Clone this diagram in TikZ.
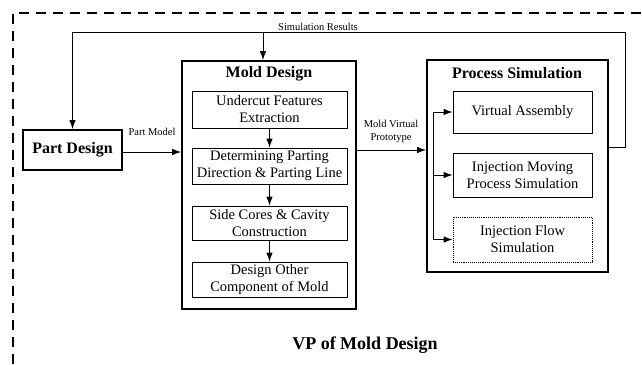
\documentclass[tikz,border=0pt]{standalone}
\usepackage{fontspec}
\setmainfont{Liberation Serif}
\usetikzlibrary{arrows.meta}

\tikzset{
  outer/.style={draw, line width=1.8pt, inner sep=0pt},
  inbox/.style={draw, line width=0.9pt, minimum width=155pt, align=center,
    inner sep=0pt, font=\fontsize{14.5}{17}\selectfont},
  simbox/.style={inbox, minimum width=139pt},
  title/.style={font=\fontsize{16}{18}\selectfont\bfseries},
  lbl/.style={font=\fontsize{10.5}{12.5}\selectfont, align=center, inner sep=1pt},
  link/.style={-{Latex[length=9pt,width=6.5pt]}, line width=0.9pt},
}

\begin{document}
\begin{tikzpicture}[x=1pt, y=-1pt]

\useasboundingbox (0,0) rectangle (642,364);

% frame of the VP
\draw[line width=1.5pt, dash pattern=on 10pt off 7pt] (13,364) -- (13,13) -- (642,13);

\node[outer, minimum width=99pt, minimum height=40pt, title] (part) at (72.5,150) {Part Design};

\node[outer, minimum width=174pt, minimum height=248pt] (mold) at (269,185) {};
\node[title] (moldt) at (269,74) {Mold Design};
\node[inbox, minimum height=37pt] (cut)   at (269.5,109.5) {Undercut Features\\Extraction};
\node[inbox, minimum height=36pt] (dir)   at (269.5,166)   {Determining Parting\\Direction \& Parting Line};
\node[inbox, minimum height=34pt] (core)  at (269.5,223)   {Side Cores \& Cavity\\Construction};
\node[inbox, minimum height=35pt] (other) at (269.5,279.5) {Design Other\\Component of Mold};

\node[outer, minimum width=181pt, minimum height=212pt] (proc) at (517.5,166) {};
\node[title] (proct) at (517,73) {Process Simulation};
\node[simbox, minimum height=42pt] (va)  at (522.5,112)   {Virtual Assembly};
\node[simbox, minimum height=44pt] (imp) at (522.5,175)   {Injection Moving\\Process Simulation};
\node[simbox, minimum height=45pt, densely dotted] (ifs) at (522.5,239.5) {Injection Flow\\Simulation};

\foreach \a/\b in {cut/dir, dir/core, core/other}
    \draw[link] (\a) -- (\b);

\coordinate (pm) at (122,152);
\draw[link] (part.east |- pm) -- (mold.west |- pm);
\node[lbl] (pmt) at (152,132) {Part Model};

\coordinate (mv) at (356,150);
\draw[link] (mold.east |- mv) -- (proc.west |- mv);
\node[lbl] (mvt) at (391,131.5) {Mold Virtual\\Prototype};

\coordinate (br) at (433,111);
\draw[line width=0.9pt] (br |- va.west) -- (br |- ifs.west);
\foreach \n in {va, imp, ifs}
    \draw[link] (br |- \n.west) -- (\n.west);

% simulation results back to design
\coordinate (fb) at (625,32);
\draw[link] (proc.east |- 0,147) -| (fb) -| (part.north);
\draw[link] ([xshift=-6pt]mold.north |- fb) -- ([xshift=-6pt]mold.north);
\node[lbl, above] (fbt) at (318,32) {Simulation Results};

\node[font=\fontsize{18}{20}\selectfont\bfseries] (vp) at (365,345) {VP of Mold Design};

\end{tikzpicture}
\end{document}
